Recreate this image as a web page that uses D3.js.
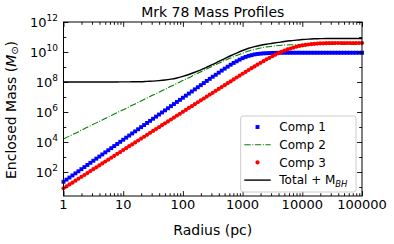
<!DOCTYPE html>
<html>
<head>
<meta charset="utf-8">
<script src="https://cdn.jsdelivr.net/npm/d3@7"></script>
<style>
  body { margin: 0; background: #fff; }
  svg { display: block; }
  text { font-family: "DejaVu Sans", sans-serif; fill: #000; }
</style>
</head>
<body>
<div id="chart"></div>
<script>
// log10 of radius (pc), sampling of the marker series
const logRFine = [
  0.00, 0.05, 0.10, 0.15, 0.20, 0.25, 0.30, 0.35, 0.40, 0.45,
  0.50, 0.55, 0.60, 0.65, 0.70, 0.75, 0.80, 0.85, 0.90, 0.95,
  1.00, 1.05, 1.10, 1.15, 1.20, 1.25, 1.30, 1.35, 1.40, 1.45,
  1.50, 1.55, 1.60, 1.65, 1.70, 1.75, 1.80, 1.85, 1.90, 1.95,
  2.00, 2.05, 2.10, 2.15, 2.20, 2.25, 2.30, 2.35, 2.40, 2.45,
  2.50, 2.55, 2.60, 2.65, 2.70, 2.75, 2.80, 2.85, 2.90, 2.95,
  3.00, 3.05, 3.10, 3.15, 3.20, 3.25, 3.30, 3.35, 3.40, 3.45,
  3.50, 3.55, 3.60, 3.65, 3.70, 3.75, 3.80, 3.85, 3.90, 3.95,
  4.00, 4.05, 4.10, 4.15, 4.20, 4.25, 4.30, 4.35, 4.40, 4.45,
  4.50, 4.55, 4.60, 4.65, 4.70, 4.75, 4.80, 4.85, 4.90, 4.95,
  5.00
];
// log10 enclosed mass (Msun), Comp 1
const comp1LogM = [
  1.35, 1.49, 1.63, 1.77, 1.91, 2.05, 2.19, 2.33, 2.47, 2.61,
  2.75, 2.89, 3.03, 3.17, 3.31, 3.45, 3.59, 3.73, 3.87, 4.01,
  4.15, 4.29, 4.43, 4.57, 4.71, 4.85, 4.99, 5.13, 5.27, 5.41,
  5.55, 5.69, 5.83, 5.97, 6.11, 6.25, 6.39, 6.53, 6.67, 6.81,
  6.95, 7.09, 7.23, 7.37, 7.51, 7.65, 7.79, 7.93, 8.07, 8.21,
  8.35, 8.48, 8.62, 8.76, 8.89, 9.02, 9.15, 9.27, 9.38, 9.49,
  9.59, 9.67, 9.74, 9.79, 9.84, 9.87, 9.89, 9.91, 9.92, 9.93,
  9.94, 9.94, 9.95, 9.95, 9.95, 9.95, 9.95, 9.95, 9.95, 9.95,
  9.95, 9.95, 9.95, 9.95, 9.95, 9.95, 9.95, 9.95, 9.95, 9.95,
  9.95, 9.95, 9.95, 9.95, 9.95, 9.95, 9.95, 9.95, 9.95, 9.95,
  9.95
];
// Comp 3
const comp3LogM = [
  0.91, 1.04, 1.17, 1.29, 1.42, 1.55, 1.68, 1.80, 1.93, 2.06,
  2.19, 2.31, 2.44, 2.57, 2.70, 2.82, 2.95, 3.08, 3.21, 3.33,
  3.46, 3.59, 3.72, 3.84, 3.97, 4.10, 4.23, 4.35, 4.48, 4.61,
  4.74, 4.86, 4.99, 5.12, 5.25, 5.37, 5.50, 5.63, 5.76, 5.88,
  6.01, 6.14, 6.27, 6.39, 6.52, 6.65, 6.78, 6.90, 7.03, 7.16,
  7.28, 7.41, 7.54, 7.66, 7.79, 7.92, 8.04, 8.17, 8.30, 8.42,
  8.55, 8.67, 8.80, 8.92, 9.04, 9.16, 9.28, 9.39, 9.51, 9.61,
  9.72, 9.82, 9.92, 10.01, 10.09, 10.17, 10.23, 10.29, 10.35, 10.40,
  10.44, 10.47, 10.50, 10.52, 10.54, 10.56, 10.57, 10.58, 10.59, 10.59,
  10.60, 10.60, 10.60, 10.60, 10.60, 10.60, 10.60, 10.60, 10.60, 10.60,
  10.60
];
// sampling of the line series
const logRCoarse = [
  0.0, 0.1, 0.2, 0.3, 0.4, 0.5, 0.6, 0.7, 0.8, 0.9,
  1.0, 1.1, 1.2, 1.3, 1.4, 1.5, 1.6, 1.7, 1.8, 1.9,
  2.0, 2.1, 2.2, 2.3, 2.4, 2.5, 2.6, 2.7, 2.8, 2.9,
  3.0, 3.1, 3.2, 3.3, 3.4, 3.5, 3.6, 3.7, 3.8, 3.9,
  4.0, 4.1, 4.2, 4.3, 4.4, 4.5, 4.6, 4.7, 4.8, 4.9,
  5.0
];
// Comp 2
const comp2LogM = [
  4.20, 4.40, 4.59, 4.79, 4.98, 5.18, 5.37, 5.57, 5.76, 5.96,
  6.15, 6.35, 6.54, 6.74, 6.93, 7.13, 7.32, 7.51, 7.71, 7.90,
  8.10, 8.29, 8.49, 8.68, 8.87, 9.06, 9.25, 9.43, 9.60, 9.77,
  9.92, 10.06, 10.17, 10.27, 10.34, 10.39, 10.43, 10.46, 10.48, 10.49,
  10.50, 10.50, 10.50, 10.50, 10.50, 10.50, 10.50, 10.50, 10.50, 10.50,
  10.50
];
// Total + M_BH
const totalLogM = [
  8.00, 8.00, 8.00, 8.00, 8.00, 8.00, 8.00, 8.00, 8.00, 8.00,
  8.01, 8.01, 8.02, 8.02, 8.04, 8.06, 8.09, 8.13, 8.19, 8.27,
  8.37, 8.50, 8.65, 8.81, 8.99, 9.17, 9.37, 9.56, 9.75, 9.93,
  10.10, 10.25, 10.36, 10.45, 10.52, 10.58, 10.64, 10.70, 10.75, 10.79,
  10.83, 10.86, 10.88, 10.89, 10.90, 10.90, 10.90, 10.90, 10.90, 10.90,
  10.90
];

const xTicks = [1, 10, 100, 1000, 10000, 100000];
const xTickLabels = ['1', '10', '100', '1000', '10000', '100000'];
const yTickExps = [2, 4, 6, 8, 10, 12];
const legendLabels = ['Comp 1', 'Comp 2', 'Comp 3', 'Total + M'];

const width = 394, height = 244;
const plotLeft = 63.5, plotRight = 362, plotTop = 22, plotBottom = 196;

const svg = d3.select('#chart').append('svg')
  .attr('width', width)
  .attr('height', height);

svg.append('rect').attr('width', width).attr('height', height).attr('fill', '#fff');

const x = d3.scaleLog().domain([1, 1e5]).range([plotLeft, plotRight]);
const y = d3.scaleLog().domain([Math.pow(10, 0.4), 1e12]).range([plotBottom, plotTop]);

const fine = logRFine.map((r, i) => ({ r: Math.pow(10, r), c1: Math.pow(10, comp1LogM[i]), c3: Math.pow(10, comp3LogM[i]) }));
const coarse = logRCoarse.map((r, i) => ({ r: Math.pow(10, r), c2: Math.pow(10, comp2LogM[i]), tot: Math.pow(10, totalLogM[i]) }));

const plot = svg.append('g');

// Comp 1 squares
const sq = 3.9;
plot.selectAll('.c1')
  .data(fine)
  .enter()
  .append('rect')
  .attr('x', d => x(d.r) - sq / 2)
  .attr('y', d => y(d.c1) - sq / 2)
  .attr('width', sq)
  .attr('height', sq)
  .attr('fill', '#0000ff');

// Comp 2 dash-dot line
plot.append('path')
  .datum(coarse)
  .attr('fill', 'none')
  .attr('stroke', '#008000')
  .attr('stroke-width', 1.1)
  .attr('stroke-dasharray', '6.4,1.6,1,1.6')
  .attr('d', d3.line().x(d => x(d.r)).y(d => y(d.c2)).curve(d3.curveMonotoneX));

// Comp 3 dots
plot.selectAll('.c3')
  .data(fine)
  .enter()
  .append('circle')
  .attr('cx', d => x(d.r))
  .attr('cy', d => y(d.c3))
  .attr('r', 2.1)
  .attr('fill', '#ff0000');

// Total line
plot.append('path')
  .datum(coarse)
  .attr('fill', 'none')
  .attr('stroke', '#000')
  .attr('stroke-width', 1.4)
  .attr('d', d3.line().x(d => x(d.r)).y(d => y(d.tot)).curve(d3.curveMonotoneX));

// ticks (inward, all four sides)
const majorLen = 4.9, minorLen = 2.8;
const xMinor = [];
for (let k = 0; k < 5; k++) for (let m = 2; m <= 9; m++) xMinor.push(m * Math.pow(10, k));
const yMajor = yTickExps.map(e => Math.pow(10, e));
const yMinor = [1, 3, 5, 7, 9, 11].map(e => Math.pow(10, e));

function addAxis(axis, transform) {
  const g = svg.append('g').attr('transform', transform).call(axis);
  g.select('.domain').remove();
  g.selectAll('line').attr('stroke', '#000').attr('stroke-width', 0.9);
  g.selectAll('text').remove();
}
addAxis(d3.axisBottom(x).tickValues(xTicks).tickSize(-majorLen), `translate(0,${plotBottom})`);
addAxis(d3.axisBottom(x).tickValues(xMinor).tickSize(-minorLen), `translate(0,${plotBottom})`);
addAxis(d3.axisTop(x).tickValues(xTicks).tickSize(-majorLen), `translate(0,${plotTop})`);
addAxis(d3.axisTop(x).tickValues(xMinor).tickSize(-minorLen), `translate(0,${plotTop})`);
addAxis(d3.axisLeft(y).tickValues(yMajor).tickSize(-majorLen), `translate(${plotLeft},0)`);
addAxis(d3.axisLeft(y).tickValues(yMinor).tickSize(-minorLen), `translate(${plotLeft},0)`);
addAxis(d3.axisRight(y).tickValues(yMajor).tickSize(-majorLen), `translate(${plotRight},0)`);
addAxis(d3.axisRight(y).tickValues(yMinor).tickSize(-minorLen), `translate(${plotRight},0)`);

// frame
svg.append('rect')
  .attr('x', plotLeft).attr('y', plotTop)
  .attr('width', plotRight - plotLeft).attr('height', plotBottom - plotTop)
  .attr('fill', 'none').attr('stroke', '#000').attr('stroke-width', 1);

// x tick labels
svg.selectAll('.xl')
  .data(xTicks)
  .enter()
  .append('text')
  .attr('x', d => x(d))
  .attr('y', 209)
  .attr('text-anchor', 'middle')
  .attr('font-size', 13)
  .text((d, i) => xTickLabels[i]);

// y tick labels 10^n
const yl = svg.selectAll('.yl')
  .data(yTickExps)
  .enter()
  .append('text')
  .attr('x', 58)
  .attr('y', d => y(Math.pow(10, d)) + 4.6)
  .attr('text-anchor', 'end')
  .attr('font-size', 13);
yl.append('tspan').text('10');
yl.append('tspan').attr('font-size', 9).attr('dy', -5.5).text(d => d);

// title and axis labels
svg.append('text')
  .attr('x', (plotLeft + plotRight) / 2).attr('y', 16.7)
  .attr('text-anchor', 'middle').attr('font-size', 14)
  .text('Mrk 78 Mass Profiles');

svg.append('text')
  .attr('x', (plotLeft + plotRight) / 2).attr('y', 235)
  .attr('text-anchor', 'middle').attr('font-size', 14)
  .text('Radius (pc)');

const ylab = svg.append('text')
  .attr('transform', 'translate(15.5,110) rotate(-90)')
  .attr('text-anchor', 'middle').attr('font-size', 14);
ylab.append('tspan').text('Enclosed Mass (');
ylab.append('tspan').attr('font-style', 'italic').text('M');
ylab.append('tspan').attr('font-size', 9.8).attr('dy', 2.5).text('\u2299');
ylab.append('tspan').attr('dy', -2.5).text(')');

// legend
const lg = svg.append('g');
lg.append('rect')
  .attr('x', 240.7).attr('y', 116)
  .attr('width', 115.3).attr('height', 76)
  .attr('rx', 2.5)
  .attr('fill', '#fff').attr('fill-opacity', 0.8)
  .attr('stroke', '#cccccc').attr('stroke-width', 1);

const rowY = i => 127 + i * 17.7;
const hx0 = 244.3, hx1 = 270.7, hxc = (hx0 + hx1) / 2;

lg.append('rect').attr('x', hxc - sq / 2).attr('y', rowY(0) - sq / 2)
  .attr('width', sq).attr('height', sq).attr('fill', '#0000ff');
lg.append('line').attr('x1', hx0).attr('x2', hx1).attr('y1', rowY(1)).attr('y2', rowY(1))
  .attr('stroke', '#008000').attr('stroke-width', 1.1).attr('stroke-dasharray', '6.4,1.6,1,1.6');
lg.append('circle').attr('cx', hxc).attr('cy', rowY(2)).attr('r', 2.1).attr('fill', '#ff0000');
lg.append('line').attr('x1', hx0).attr('x2', hx1).attr('y1', rowY(3)).attr('y2', rowY(3))
  .attr('stroke', '#000').attr('stroke-width', 1.4);

const lt = lg.selectAll('.lt')
  .data(legendLabels)
  .enter()
  .append('text')
  .attr('x', 279.3)
  .attr('y', (d, i) => rowY(i) + 4.3)
  .attr('font-size', 12)
  .text(d => d);
lt.filter((d, i) => i === 3)
  .append('tspan').attr('font-size', 8.4).attr('font-style', 'italic').attr('dy', 2.5).text('BH');
</script>
</body>
</html>
